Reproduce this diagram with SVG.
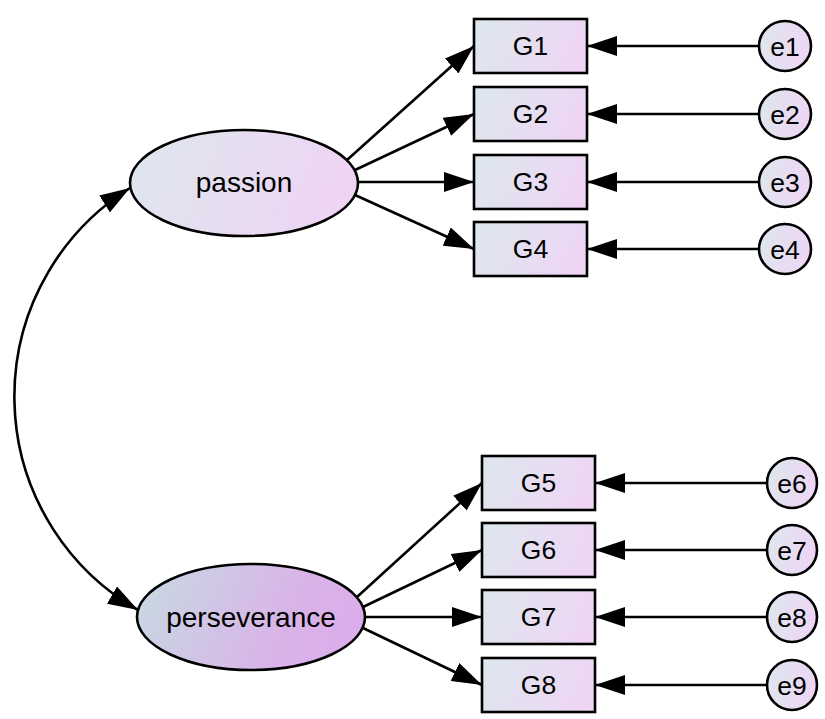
<svg xmlns="http://www.w3.org/2000/svg" width="825" height="719" viewBox="0 0 825 719">
  <style>
    .shape { stroke: #000; stroke-width: 2.6; }
    .obs { fill: url(#gLight); }
    .err { fill: url(#gLight); }
    .lbl { font-family: "Liberation Sans", Arial, sans-serif; font-size: 26.5px; fill: #000; text-anchor: middle; }
    .big { font-size: 28px; }
    .path { stroke: #000; stroke-width: 2.6; fill: none; marker-end: url(#arrow); }
  </style>
  <defs>
    <linearGradient id="gLight" x1="0" y1="0.4" x2="1" y2="0.6">
      <stop offset="0" stop-color="#dee6ee"/>
      <stop offset="1" stop-color="#efd5f4"/>
    </linearGradient>
    <linearGradient id="gPassion" x1="0" y1="0.4" x2="1" y2="0.6">
      <stop offset="0" stop-color="#dfe6ee"/>
      <stop offset="1" stop-color="#f0d3f4"/>
    </linearGradient>
    <linearGradient id="gPersev" x1="0" y1="0.4" x2="1" y2="0.6">
      <stop offset="0" stop-color="#c8d7e2"/>
      <stop offset="0.65" stop-color="#d9b4e8"/>
      <stop offset="1" stop-color="#dcacec"/>
    </linearGradient>
    <marker id="arrow" viewBox="0 0 30 20" refX="30" refY="10" markerUnits="userSpaceOnUse" markerWidth="30" markerHeight="20" orient="auto-start-reverse">
      <path d="M0,0 L30,10 L0,20 z" fill="#000"/>
    </marker>
  </defs>

  <!-- paths, error terms and covariance -->
  <g id="connectors">
    <path class="path" d="M130,188 A246,246 0 0 0 138,610" marker-start="url(#arrow)"/>

    <line class="path" x1="347" y1="160" x2="474" y2="46"/>
    <line class="path" x1="355" y1="170" x2="474" y2="114"/>
    <line class="path" x1="358" y1="182" x2="474" y2="182"/>
    <line class="path" x1="355" y1="195" x2="474" y2="249"/>

    <line class="path" x1="357" y1="597" x2="482" y2="483"/>
    <line class="path" x1="363" y1="607" x2="482" y2="550"/>
    <line class="path" x1="365" y1="617" x2="482" y2="617"/>
    <line class="path" x1="363" y1="628" x2="482" y2="685"/>

    <line class="path" x1="759" y1="46" x2="587" y2="46"/>
    <line class="path" x1="759" y1="114" x2="587" y2="114"/>
    <line class="path" x1="759" y1="182" x2="587" y2="182"/>
    <line class="path" x1="759" y1="249" x2="587" y2="249"/>

    <line class="path" x1="767" y1="483" x2="595" y2="483"/>
    <line class="path" x1="767" y1="550" x2="595" y2="550"/>
    <line class="path" x1="767" y1="617" x2="595" y2="617"/>
    <line class="path" x1="767" y1="685" x2="595" y2="685"/>
  </g>

  <!-- latent variables -->
  <g id="passion">
    <ellipse class="shape" cx="244" cy="183" rx="114" ry="53" fill="url(#gPassion)"/>
    <text class="lbl big" x="244" y="192">passion</text>
  </g>
  <g id="perseverance">
    <ellipse class="shape" cx="251" cy="617" rx="114" ry="53" fill="url(#gPersev)"/>
    <text class="lbl big" x="251" y="627">perseverance</text>
  </g>

  <!-- observed indicators -->
  <g id="G1"><rect class="shape obs" x="474" y="19" width="113" height="54"/><text class="lbl" x="530.5" y="55">G1</text></g>
  <g id="G2"><rect class="shape obs" x="474" y="87" width="113" height="54"/><text class="lbl" x="530.5" y="123">G2</text></g>
  <g id="G3"><rect class="shape obs" x="474" y="155" width="113" height="54"/><text class="lbl" x="530.5" y="191">G3</text></g>
  <g id="G4"><rect class="shape obs" x="474" y="222" width="113" height="54"/><text class="lbl" x="530.5" y="258">G4</text></g>
  <g id="G5"><rect class="shape obs" x="482" y="456" width="113" height="54"/><text class="lbl" x="538.5" y="492">G5</text></g>
  <g id="G6"><rect class="shape obs" x="482" y="523" width="113" height="54"/><text class="lbl" x="538.5" y="559">G6</text></g>
  <g id="G7"><rect class="shape obs" x="482" y="590" width="113" height="54"/><text class="lbl" x="538.5" y="626">G7</text></g>
  <g id="G8"><rect class="shape obs" x="482" y="658" width="113" height="54"/><text class="lbl" x="538.5" y="694">G8</text></g>

  <!-- error terms -->
  <g id="e1"><ellipse class="shape err" cx="785" cy="46" rx="26" ry="25"/><text class="lbl" x="785" y="55.5">e1</text></g>
  <g id="e2"><ellipse class="shape err" cx="785" cy="114" rx="26" ry="25"/><text class="lbl" x="785" y="123.5">e2</text></g>
  <g id="e3"><ellipse class="shape err" cx="785" cy="182" rx="26" ry="25"/><text class="lbl" x="785" y="191.5">e3</text></g>
  <g id="e4"><ellipse class="shape err" cx="785" cy="249" rx="26" ry="25"/><text class="lbl" x="785" y="258.5">e4</text></g>
  <g id="e6"><ellipse class="shape err" cx="792" cy="483" rx="25" ry="25"/><text class="lbl" x="792" y="492.5">e6</text></g>
  <g id="e7"><ellipse class="shape err" cx="792" cy="550" rx="25" ry="25"/><text class="lbl" x="792" y="559.5">e7</text></g>
  <g id="e8"><ellipse class="shape err" cx="792" cy="617" rx="25" ry="25"/><text class="lbl" x="792" y="626.5">e8</text></g>
  <g id="e9"><ellipse class="shape err" cx="792" cy="685" rx="25" ry="25"/><text class="lbl" x="792" y="694.5">e9</text></g>
</svg>
